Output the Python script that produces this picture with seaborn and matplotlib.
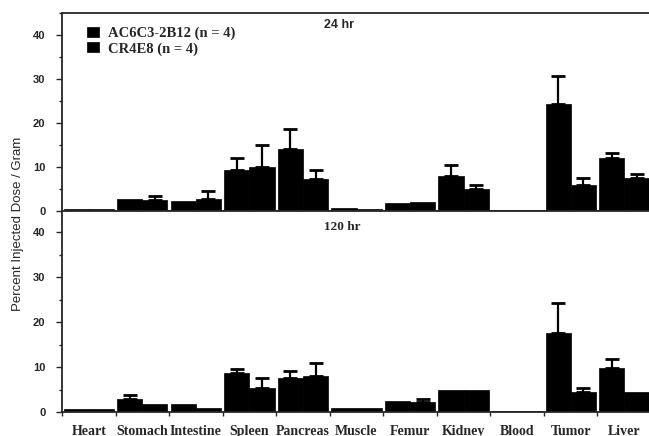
import pandas as pd
import numpy as np
import matplotlib
matplotlib.use("Agg")
import matplotlib.pyplot as plt
from matplotlib.ticker import MultipleLocator
import seaborn as sns

organs = ['Heart', 'Stomach', 'Intestine', 'Spleen', 'Pancreas', 'Muscle',
          'Femur', 'Kidney', 'Blood', 'Tumor', 'Liver']
antibodies = ['AC6C3-2B12 (n = 4)', 'CR4E8 (n = 4)']

# 24 hr, mean and upper SD
ac_24 = [0.4, 2.8, 2.2, 9.3, 14.0, 0.6, 1.8, 8.0, 0.3, 24.4, 12.1]
ac_24_sd = [0, 0, 0, 2.7, 4.6, 0, 0, 2.5, 0, 6.3, 1.0]
cr_24 = [0.4, 2.4, 2.7, 10.0, 7.3, 0.4, 2.0, 5.0, 0.3, 5.9, 7.5]
cr_24_sd = [0, 1.0, 1.8, 4.9, 2.0, 0, 0, 0.9, 0, 1.5, 0.9]

# 120 hr
ac_120 = [0.7, 2.8, 1.7, 8.6, 7.5, 0.8, 2.5, 4.9, 0.3, 17.5, 9.7]
ac_120_sd = [0, 1.0, 0, 0.9, 1.7, 0, 0, 0, 0, 6.7, 2.1]
cr_120 = [0.7, 1.8, 0.9, 5.3, 8.0, 0.8, 2.3, 4.8, 0.3, 4.4, 4.5]
cr_120_sd = [0, 0, 0, 2.2, 2.8, 0, 0.7, 0, 0, 1.0, 0]

sns.set_style('ticks')

W, H = 649, 436
fig = plt.figure(figsize=(W / 100, H / 100), dpi=100)

def px_axes(left, top, right, bottom):
    return fig.add_axes([left / W, 1 - bottom / H, (right - left) / W, (bottom - top) / H])

ax1 = px_axes(62, 13, 651, 211)
ax2 = px_axes(62, 211, 651, 412)

serif = {'family': 'Liberation Serif', 'weight': 'bold'}
sans = {'family': 'Liberation Sans', 'weight': 'bold'}


def draw(ax, ac, ac_sd, cr, cr_sd, ymax, show_legend):
    df = pd.DataFrame({
        'organ': organs * 2,
        'antibody': [antibodies[0]] * len(organs) + [antibodies[1]] * len(organs),
        'value': ac + cr,
    })
    sns.barplot(data=df, x='organ', y='value', hue='antibody', order=organs,
                hue_order=antibodies, palette=['black', 'black'], width=0.94,
                saturation=1, edgecolor='black', linewidth=0.5, ax=ax,
                legend=show_legend)
    for cont, sds in zip(ax.containers, [ac_sd, cr_sd]):
        for bar, sd in zip(cont.patches, sds):
            if sd > 0:
                xc = bar.get_x() + bar.get_width() / 2
                h = bar.get_height()
                ax.errorbar(xc, h, yerr=[[0], [sd]], color='black', lw=1.6,
                            capsize=5, capthick=2, fmt='none')
    ax.set_xlim(-0.5, len(organs) - 0.5)
    ax.set_ylim(0, ymax)
    ax.set_xlabel('')
    ax.set_ylabel('')
    ax.yaxis.set_major_locator(MultipleLocator(10))
    ax.yaxis.set_minor_locator(MultipleLocator(5))
    ax.set_xticks(np.arange(len(organs) + 1) - 0.5, minor=True)
    ax.set_xticks(range(len(organs)))
    ax.tick_params(axis='x', which='major', length=0, pad=9)
    ax.tick_params(axis='x', which='minor', length=3, width=1, direction='out')
    ax.tick_params(axis='y', which='major', length=4, width=1, pad=8)
    ax.tick_params(axis='y', which='minor', length=2, width=1)
    for s in ax.spines.values():
        s.set_visible(True)
        s.set_linewidth(1.3)
    for lab in ax.get_yticklabels():
        lab.set_fontproperties(sans)
        lab.set_fontsize(8)


draw(ax1, ac_24, ac_24_sd, cr_24, cr_24_sd, 45, True)
draw(ax2, ac_120, ac_120_sd, cr_120, cr_120_sd, 44.7, False)

ax1.set_xticklabels([])
ax2.set_xticklabels(organs, fontdict=serif, fontsize=10)

leg = ax1.legend(loc='upper left', bbox_to_anchor=(0.042, 0.93), frameon=False,
                 borderpad=0, borderaxespad=0, handlelength=0.85, handleheight=0.7,
                 handletextpad=0.6, labelspacing=0.12, prop={**serif, 'size': 10.5})
ax1.text(0.445, 0.94, '24 hr', transform=ax1.transAxes, ha='left', va='center',
         fontdict=sans, fontsize=9)
ax2.text(0.445, 0.92, '120 hr', transform=ax2.transAxes, ha='left', va='center',
         fontdict=serif, fontsize=9.5)

fig.text(18 / W, 1 - 224 / H, 'Percent Injected Dose / Gram', rotation=90,
         ha='center', va='center', family='Liberation Sans', fontsize=9.5)

fig.savefig('out.png', dpi=100)
